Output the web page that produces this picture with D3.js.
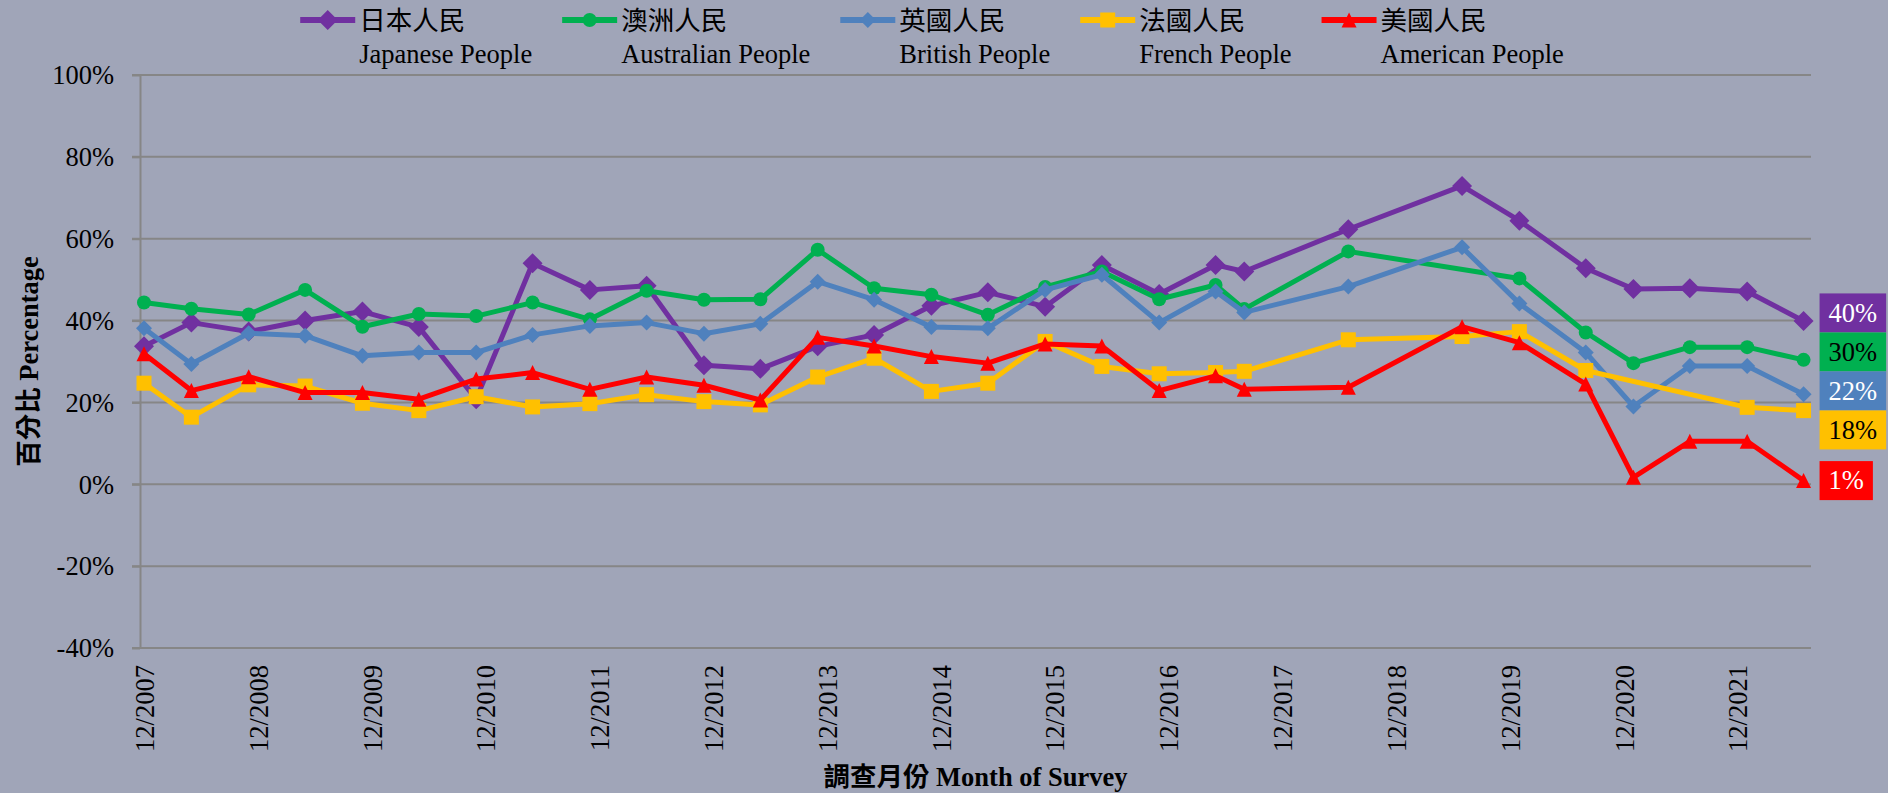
<!DOCTYPE html>
<html>
<head>
<meta charset="utf-8">
<script src="https://cdn.jsdelivr.net/npm/d3@7"></script>
<style>
  body { margin: 0; background: #a0a5b8; }
  svg text { font-family: "Liberation Serif", "Times New Roman", "Noto Sans CJK TC", serif; }
</style>
</head>
<body>
<div id="chart"></div>
<script>
// survey months (year-month) and the five series, in %
var surveyMonths = ["2007-12", "2008-05", "2008-11", "2009-05", "2009-11", "2010-05", "2010-11",
    "2011-05", "2011-11", "2012-05", "2012-11", "2013-05", "2013-11", "2014-05", "2014-11",
    "2015-05", "2015-11", "2016-05", "2016-11", "2017-05", "2017-08", "2018-07", "2019-07",
    "2020-01", "2020-08", "2021-01", "2021-07", "2022-01", "2022-07"];

var japanese = [33.7, 39.5, 37.3, 40.0, 42.2, 38.4, 20.8, 54.0, 47.5, 48.5, 29.1, 28.2, 33.7, 36.5,
    43.6, 46.9, 43.4, 53.6, 46.5, 53.6, 52.0, 62.3, 72.9, 64.4, 52.8, 47.7, 47.9, 47.1, 39.9];
var australian = [44.4, 42.9, 41.5, 47.5, 38.5, 41.6, 41.1, 44.4, 40.3, 47.3, 45.1, 45.2, 57.3, 47.9,
    46.3, 41.4, 48.2, 52.0, 45.2, 48.7, 42.8, 56.9, null, 50.3, 37.1, 29.6, 33.5, 33.5, 30.4];
var british = [38.1, 29.4, 36.9, 36.3, 31.4, 32.2, 32.2, 36.5, 38.7, 39.5, 36.8, 39.2, 49.5, 45.1,
    38.4, 38.1, 47.5, 51.2, 39.5, 47.1, 42.0, 48.3, 57.9, 44.2, 32.2, 19.0, 28.9, 28.9, 22.0];
var french = [24.7, 16.4, 24.3, 24.0, 19.8, 18.0, 21.4, 18.9, 19.7, 21.9, 20.2, 19.4, 26.2, 30.8,
    22.7, 24.7, 34.9, 28.8, 27.0, 27.3, 27.6, 35.3, 36.1, 37.3, 27.8, null, null, 18.8, 18.0];
var american = [31.9, 22.9, 26.3, 22.4, 22.4, 20.8, 25.7, 27.3, 23.2, 26.2, 24.2, 20.6, 35.9, 33.8,
    31.2, 29.6, 34.3, 33.8, 22.9, 26.5, 23.2, 23.7, 38.5, 34.6, 24.5, 1.7, 10.5, 10.5, 0.9];

var namesZh = ["日本人民", "澳洲人民", "英國人民", "法國人民", "美國人民"];
var namesEn = ["Japanese People", "Australian People", "British People", "French People", "American People"];

var yTicks = [-40, -20, 0, 20, 40, 60, 80, 100];
var xTickLabels = ["12/2007", "12/2008", "12/2009", "12/2010", "12/2011", "12/2012", "12/2013",
    "12/2014", "12/2015", "12/2016", "12/2017", "12/2018", "12/2019", "12/2020", "12/2021"];

// styles
var colors = ["#7030a0", "#00b050", "#4f81bd", "#ffc000", "#ff0000"];
var markers = ["diamond", "circle", "diamond", "square", "triangle"];
var markerSize = [10, 7, 8, 7.5, 7.5];
var labelTextColor = ["#fff", "#000", "#fff", "#000", "#fff"];
var gridColor = "#868686";
var fontSize = 26.5;

var svgWidth = 1888, svgHeight = 793;
var plotLeft = 140, plotRight = 1811, plotTop = 75, plotBottom = 648;

var parseMonth = d3.timeParse("%Y-%m");
var parseTick = d3.timeParse("%m/%Y");

var series = [japanese, australian, british, french, american].map(function (vals, i) {
    return {
        zh: namesZh[i], en: namesEn[i], color: colors[i], marker: markers[i], size: markerSize[i],
        textColor: labelTextColor[i],
        points: surveyMonths.map(function (m, j) { return { date: parseMonth(m), value: vals[j] }; })
            .filter(function (d) { return d.value !== null; })
    };
});

var svg = d3.select("#chart").append("svg")
    .attr("width", svgWidth)
    .attr("height", svgHeight);

// scales
var xScale = d3.scaleTime()
    .domain([parseTick(xTickLabels[0]), parseTick(xTickLabels[xTickLabels.length - 1])])
    .range([144, 1737.5]);
var yScale = d3.scaleLinear()
    .domain([-40, 100])
    .range([plotBottom, plotTop]);

function markerPath(type, r) {
    if (type === "diamond") return "M0," + (-r) + "L" + r + ",0L0," + r + "L" + (-r) + ",0Z";
    if (type === "square") return "M" + (-r) + "," + (-r) + "H" + r + "V" + r + "H" + (-r) + "Z";
    if (type === "triangle") return "M0," + (-r) + "L" + r + "," + r + "H" + (-r) + "Z";
    return d3.symbol().type(d3.symbolCircle).size(Math.PI * r * r)();
}

// gridlines (the -40% one is the x axis line)
svg.append("g").selectAll("line")
    .data(yTicks)
    .enter()
    .append("line")
    .attr("x1", plotLeft - 8)
    .attr("x2", plotRight)
    .attr("y1", d => yScale(d))
    .attr("y2", d => yScale(d))
    .attr("stroke", gridColor)
    .attr("stroke-width", 2);

// y axis
var leftAxis = d3.axisLeft(yScale)
    .tickValues(yTicks)
    .tickSize(8)
    .tickSizeOuter(0)
    .tickPadding(18)
    .tickFormat(d => d + "%");
var yAxisG = svg.append("g")
    .attr("transform", `translate(${plotLeft},0)`)
    .call(leftAxis);
yAxisG.attr("font-size", fontSize).attr("font-family", null);
yAxisG.select(".domain").attr("stroke", gridColor).attr("stroke-width", 2);
yAxisG.selectAll(".tick line").attr("stroke", gridColor).attr("stroke-width", 2);
yAxisG.selectAll(".tick text").attr("fill", "#000").attr("dy", "0.33em");

// x axis
var bottomAxis = d3.axisBottom(xScale)
    .tickValues(xTickLabels.map(parseTick))
    .tickSize(0)
    .tickFormat(d3.timeFormat("%m/%Y"));
var xAxisG = svg.append("g")
    .attr("transform", `translate(0,${plotBottom})`)
    .call(bottomAxis);
xAxisG.attr("font-size", fontSize).attr("font-family", null);
xAxisG.select(".domain").remove();
xAxisG.selectAll(".tick text")
    .attr("fill", "#000")
    .attr("transform", "rotate(-90)")
    .attr("x", -17)
    .attr("y", 0)
    .attr("dy", "0.35em")
    .style("text-anchor", "end");

// lines and markers
var line = d3.line()
    .x(d => xScale(d.date))
    .y(d => yScale(d.value));

series.forEach(function (s) {
    var g = svg.append("g");
    g.append("path")
        .datum(s.points)
        .attr("d", line)
        .attr("fill", "none")
        .attr("stroke", s.color)
        .attr("stroke-width", 5)
        .attr("stroke-linejoin", "round");
    g.selectAll(".mark")
        .data(s.points)
        .enter()
        .append("path")
        .attr("class", "mark")
        .attr("transform", d => `translate(${xScale(d.date)},${yScale(d.value)})`)
        .attr("d", markerPath(s.marker, s.size))
        .attr("fill", s.color);
});

// value labels at the last point, spread apart so they don't overlap
var boxH = 39;
var labels = series.map(function (s) {
    var last = s.points[s.points.length - 1];
    return { s: s, x: xScale(last.date), y: yScale(last.value), text: Math.round(last.value) + "%" };
});
var sorted = labels.slice().sort((a, b) => a.y - b.y);
for (var it = 0; it < 200; it++) {
    for (var k = 1; k < sorted.length; k++) {
        var gap = sorted[k].y - sorted[k - 1].y;
        if (gap < boxH) {
            var push = (boxH - gap) / 2;
            sorted[k].y += push;
            sorted[k - 1].y -= push;
        }
    }
}
labels.forEach(function (l) {
    var g = svg.append("g").attr("transform", `translate(${l.x + 16},${l.y})`);
    var t = g.append("text")
        .attr("x", 9)
        .attr("dy", "0.33em")
        .attr("font-size", fontSize)
        .attr("fill", l.s.textColor)
        .text(l.text);
    var w = t.node().getComputedTextLength();
    g.insert("rect", "text")
        .attr("x", 0)
        .attr("y", -boxH / 2)
        .attr("width", w + 18)
        .attr("height", boxH)
        .attr("fill", l.s.color);
});

// legend
var legend = svg.append("g");
var items = legend.selectAll("g")
    .data(series)
    .enter()
    .append("g");
items.append("line")
    .attr("x1", 0).attr("x2", 55)
    .attr("y1", 20).attr("y2", 20)
    .attr("stroke", d => d.color)
    .attr("stroke-width", 6);
items.append("path")
    .attr("transform", "translate(27.5,20)")
    .attr("d", d => markerPath(d.marker, d.size))
    .attr("fill", d => d.color);
var legendText = items.append("text")
    .attr("font-size", fontSize)
    .attr("fill", "#000");
legendText.append("tspan").attr("x", 59).attr("y", 30).text(d => d.zh);
legendText.append("tspan").attr("x", 59).attr("y", 63).text(d => d.en);

var widths = legendText.nodes().map(n => n.getBBox().width);
var totalW = d3.sum(widths) + widths.length * 59 + (widths.length - 1) * 30;
var offsets = [];
var cx = 932 - totalW / 2;
widths.forEach(function (w) { offsets.push(cx); cx += 59 + w + 30; });
items.attr("transform", (d, i) => `translate(${offsets[i]},0)`);

// axis titles
svg.append("text")
    .attr("transform", `translate(38,${(plotTop + plotBottom) / 2}) rotate(-90)`)
    .attr("text-anchor", "middle")
    .attr("font-size", fontSize)
    .attr("font-weight", "bold")
    .text("百分比 Percentage");

svg.append("text")
    .attr("x", (plotLeft + plotRight) / 2)
    .attr("y", 786)
    .attr("text-anchor", "middle")
    .attr("font-size", fontSize)
    .attr("font-weight", "bold")
    .text("調查月份 Month of Survey");
</script>
</body>
</html>
